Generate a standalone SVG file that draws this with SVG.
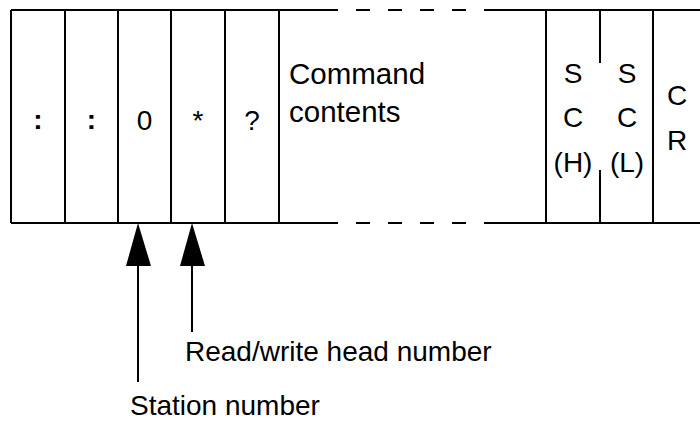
<svg xmlns="http://www.w3.org/2000/svg" width="700" height="421" viewBox="0 0 700 421">
<style>
.ln{stroke:#000;stroke-width:2;fill:none}
.ds{stroke:#000;stroke-width:2;fill:none;stroke-dasharray:14 18}
text{font-family:"Liberation Sans",Arial,sans-serif;font-size:28px;fill:#000}
.c{text-anchor:middle}
.big{font-size:29.5px}
.ah{fill:#000}
</style>
<rect width="700" height="421" fill="#fff"/>
<g id="frame">
<path class="ln" d="M11,10 H338 M485,10 H700 M11,223 H338 M485,223 H700 M11,10 V223"/>
<path class="ds" d="M356,10 H485 M356,223 H485"/>
</g>
<g id="cell-colon1"><path class="ln" d="M65,10 V223"/><text class="c" x="38" y="129" font-weight="bold">:</text></g>
<g id="cell-colon2"><path class="ln" d="M118,10 V223"/><text class="c" x="91.5" y="129" font-weight="bold">:</text></g>
<g id="cell-0"><path class="ln" d="M171,10 V223"/><text class="c" x="144.5" y="130">0</text></g>
<g id="cell-star"><path class="ln" d="M225,10 V223"/><text class="c" x="198" y="130">*</text></g>
<g id="cell-q"><path class="ln" d="M279,10 V223"/><text class="c" x="252" y="130">?</text></g>
<g id="cell-command"><text class="big" x="289" y="84">Command</text><text class="big" x="289" y="122">contents</text></g>
<g id="cell-sch"><path class="ln" d="M546,10 V223"/><text class="c" x="573" y="83">S</text><text class="c" x="573" y="127">C</text><text class="c" x="573" y="172">(H)</text></g>
<g id="cell-scl"><path class="ln" d="M600,10 V63 M600,170 V223 M653,10 V223"/><text class="c" x="627" y="83">S</text><text class="c" x="627" y="127">C</text><text class="c" x="627" y="172">(L)</text></g>
<g id="cell-cr"><text class="c" x="677" y="105">C</text><text class="c" x="677" y="150">R</text></g>
<g id="connectors">
<path class="ln" d="M138,264 V382 M192,264 V332"/>
<polygon class="ah" points="138,223 126,266 151,266"/>
<polygon class="ah" points="192,223 180,266 205,266"/>
</g>
<g id="label-station"><text x="130" y="415">Station number</text></g>
<g id="label-rw"><text x="185" y="361">Read/write head number</text></g>
</svg>
